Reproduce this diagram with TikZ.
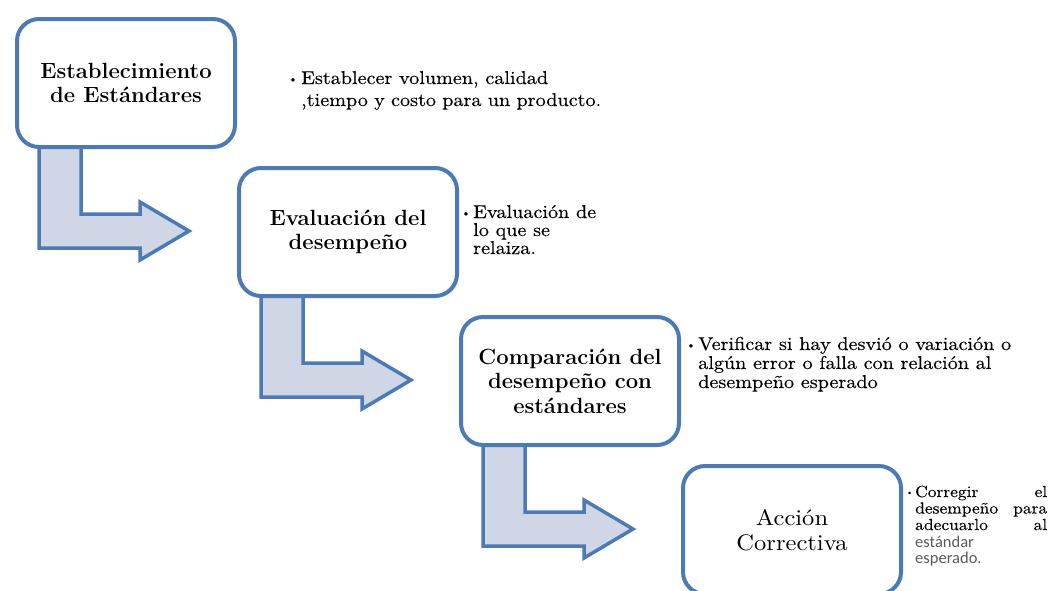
\documentclass[tikz,border=0pt]{standalone}
\usepackage{fontspec}
\newfontfamily\calibfont{Carlito}
\newfontfamily\ancho{lmroman10-regular.otf}[FakeStretch=1.09, FakeBold=0.3]
\newfontfamily\anchofino{lmroman10-regular.otf}[FakeStretch=1.09]
\definecolor{bordeazul}{HTML}{4D7AB3}
\definecolor{rellenoazul}{HTML}{CFD7E7}
\definecolor{gristexto}{HTML}{5A5A5A}
\begin{document}
\begin{tikzpicture}[x=1pt,y=-1pt,
  caja/.style={draw=bordeazul, line width=4pt, rounded corners=22pt, fill=white,
    minimum width=218pt, minimum height=128pt, inner sep=0pt, align=center, anchor=north west},
  titulo/.style={font=\fontsize{22}{24.5}\selectfont\bfseries},
  tituloreg/.style={font=\anchofino\fontsize{22.5}{25}\selectfont},
  flecha/.style={draw=bordeazul, line width=3.5pt, fill=rellenoazul, line join=miter},
  vineta/.style={anchor=base west, inner sep=0pt, font=\fontsize{13}{13}\selectfont},
  textovineta/.style={anchor=base west, inner sep=0pt, align=left}
]
\useasboundingbox (0,0) rectangle (1051,590);
\clip (0,0) rectangle (1051,590);

% boxes positions (centerline NW corners)
\coordinate (p1) at (15,17);
\coordinate (p2) at (237,166);
\coordinate (p3) at (459,315);
\coordinate (p4) at (681,464);

% arrows (drawn first, boxes cover their top)
\foreach \bx/\by in {15/145, 237/294, 459/443}{
  \begin{scope}[shift={(\bx,\by)}]
    \draw[flecha] (24,-10) -- (24,103) -- (125,103) -- (125,115) -- (174,86)
      -- (125,57) -- (125,69) -- (66,69) -- (66,-10) -- cycle;
  \end{scope}
}

\node[caja, titulo] (c1) at (p1) {Establecimiento\\de Estándares};
\node[caja, titulo] (c2) at (p2) {Evaluación del\\desempeño};
\node[caja, titulo] (c3) at (p3) {Comparación del\\desempeño con\\estándares};
\node[caja, tituloreg] (c4) at (p4) {Acción\\Correctiva};

% bullet 1
\node[vineta] (b1) at (288,83) {\textbullet};
\node[textovineta] (t1) at (301,84) {\parbox[t]{300pt}{\ancho\fontsize{18.5}{22}\selectfont\raggedright
  Establecer volumen, calidad\\,tiempo y costo para un producto.}};

% bullet 2
\node[vineta] (b2) at (461,217) {\textbullet};
\node[textovineta] (t2) at (473,218) {\parbox[t]{150pt}{\ancho\fontsize{18.5}{18}\selectfont\raggedright
  Evaluación de\\lo que se\\relaiza.}};

% bullet 3
\node[vineta] (b3) at (686,349) {\textbullet};
\node[textovineta] (t3) at (698,350) {\parbox[t]{350pt}{\ancho\fontsize{18.5}{19}\selectfont\raggedright
  Verificar si hay desvió o variación o\\algún error o falla con relación al\\desempeño esperado}};

% bullet 4
\node[vineta, font=\fontsize{9}{9}\selectfont] (b4) at (906,495) {\textbullet};
\node[textovineta] (t4) at (915,497) {\parbox[t]{132pt}{\ancho\fontsize{16}{16.5}\selectfont
  \makebox[132pt]{Corregir\hfill el}\\
  \makebox[132pt]{desempeño\hfill para}\\
  \makebox[132pt]{adecuarlo\hfill al}\\[0.5pt]
  {\calibfont\fontsize{16.5}{18.5}\selectfont\color{gristexto}estándar\\esperado.}}};
\end{tikzpicture}
\end{document}
